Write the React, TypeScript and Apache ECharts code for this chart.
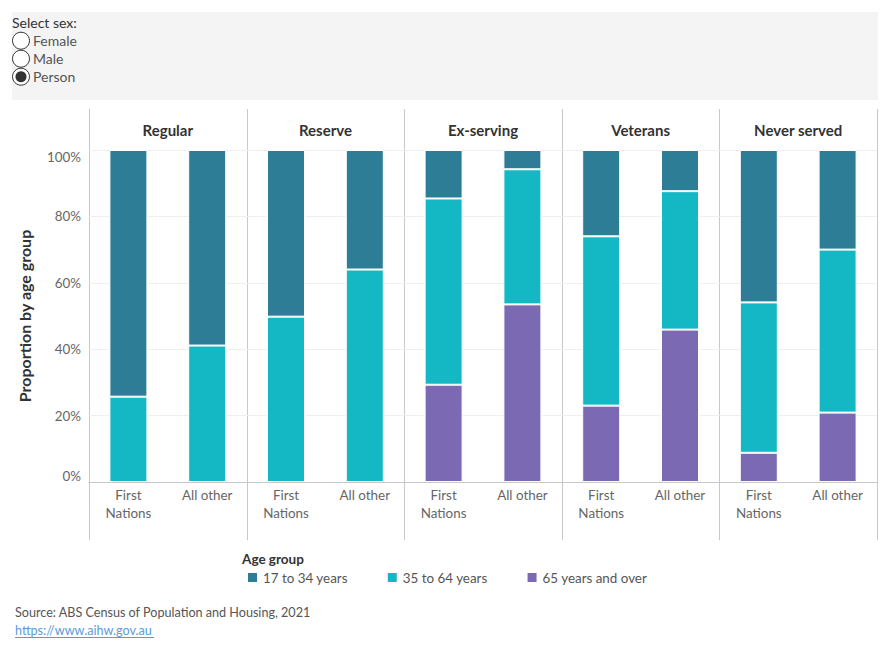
import React, { useEffect, useRef } from "react";
import * as echarts from "echarts";

const panels = ["Regular", "Reserve", "Ex-serving", "Veterans", "Never served"];
const groups = ["First Nations", "All other"];
const seriesNames = ["17 to 34 years", "35 to 64 years", "65 years and over"];
// values per panel, pairs: [First Nations, All other]
const age17to34 = [74.3, 58.9, 50.2, 36.0, 14.6, 5.8, 26.0, 12.4, 45.9, 30.0];
const age35to64 = [25.7, 41.1, 49.8, 64.0, 56.1, 40.7, 51.0, 41.7, 45.3, 49.1];
const age65plus = [0, 0, 0, 0, 29.3, 53.5, 23.0, 45.9, 8.8, 20.9];
const yTicks = [0, 20, 40, 60, 80, 100];
const sexOptions = ["Female", "Male", "Person"];
const selectedSex = "Person";

const COLORS: Record<string, string> = {
  "17 to 34 years": "#2d7d97",
  "35 to 64 years": "#13b8c4",
  "65 years and over": "#7b69b3",
};

const FONT = "Lato";
const LEFT = 89;
const PANEL_W = 157.6;
const TOP = 150;
const PLOT_H = 332;

export default function App() {
  const ref = useRef<HTMLDivElement>(null);
  useEffect(() => {
    if (!ref.current) return;
    const chart = echarts.init(ref.current, undefined, { renderer: "svg" });
    const valuesBySeries: Record<string, number[]> = {
      "17 to 34 years": age17to34,
      "35 to 64 years": age35to64,
      "65 years and over": age65plus,
    };
    const stackOrder = ["65 years and over", "35 to 64 years", "17 to 34 years"];

    const grids = panels.map((_, i) => ({
      left: LEFT + i * PANEL_W,
      top: TOP,
      width: PANEL_W,
      height: PLOT_H,
    }));
    const xAxes = panels.map((_, i) => ({
      type: "category",
      gridIndex: i,
      data: groups,
      axisTick: { show: false },
      axisLine: { lineStyle: { color: "#c8c8c8", width: 1 } },
      axisLabel: {
        interval: 0,
        color: "#666",
        fontSize: 13.4,
        fontFamily: FONT,
        lineHeight: 18,
        margin: 4,
        formatter: (v: string) => v.replace(" Nations", "\nNations"),
      },
    }));
    const yAxes = panels.map((_, i) => ({
      type: "value",
      gridIndex: i,
      min: yTicks[0],
      max: yTicks[yTicks.length - 1],
      interval: yTicks[1] - yTicks[0],
      axisLine: { show: false },
      axisTick: { show: false },
      splitLine: { lineStyle: { color: "#efefef", width: 1 } },
      axisLabel: {
        show: i === 0,
        formatter: "{value}%",
        color: "#666",
        fontSize: 13.4,
        fontFamily: FONT,
        margin: 8,
        verticalAlignMaxLabel: "top",
        verticalAlignMinLabel: "bottom",
      },
      name: i === 0 ? "Proportion by age group" : "",
      nameLocation: "middle",
      nameRotate: 90,
      nameGap: 57,
      nameTextStyle: { fontSize: 16, fontWeight: "bold", color: "#333", fontFamily: FONT },
    }));
    const series: any[] = [];
    panels.forEach((_, i) => {
      stackOrder.forEach((name) => {
        const vals = valuesBySeries[name].slice(i * 2, i * 2 + 2);
        series.push({
          type: "bar",
          name,
          xAxisIndex: i,
          yAxisIndex: i,
          stack: "p" + i,
          barWidth: 38,
          data: vals.map((v) => (v === 0 ? null : v)),
          itemStyle: { color: COLORS[name], borderColor: "#fff", borderWidth: 1 },
        });
      });
    });

    const graphics: any[] = [];
    // filter panel
    graphics.push({
      type: "rect",
      shape: { x: 12, y: 12, width: 866, height: 88 },
      style: { fill: "#f4f4f4" },
      silent: true,
    });
    graphics.push({
      type: "text",
      x: 12,
      y: 22.5,
      style: { text: "Select sex:", fill: "#333", font: `14px ${FONT}`, textVerticalAlign: "middle" },
    });
    sexOptions.forEach((opt, k) => {
      const cy = 40.7 + k * 18;
      graphics.push({
        type: "circle",
        shape: { cx: 21, cy, r: 8.5 },
        style: { fill: "#fff", stroke: "#333", lineWidth: 1 },
      });
      if (opt === selectedSex) {
        graphics.push({
          type: "circle",
          shape: { cx: 21, cy, r: 5.5 },
          style: { fill: "#333" },
        });
      }
      graphics.push({
        type: "text",
        x: 33,
        y: cy,
        style: { text: opt, fill: "#555", font: `14px ${FONT}`, textVerticalAlign: "middle" },
      });
    });
    // panel dividers and headers
    for (let i = 0; i <= panels.length; i++) {
      const x = Math.round(LEFT + i * PANEL_W) + 0.5;
      graphics.push({
        type: "line",
        shape: { x1: x, y1: 109, x2: x, y2: 540 },
        style: { stroke: "#c8c8c8", lineWidth: 1 },
        silent: true,
      });
    }
    panels.forEach((p, i) => {
      graphics.push({
        type: "text",
        x: LEFT + i * PANEL_W + PANEL_W / 2,
        y: 130,
        style: {
          text: p,
          fill: "#333",
          font: `bold 15px ${FONT}`,
          textAlign: "center",
          textVerticalAlign: "middle",
        },
      });
    });
    // legend title
    graphics.push({
      type: "text",
      x: 242,
      y: 559,
      style: { text: "Age group", fill: "#333", font: `bold 13.5px ${FONT}`, textVerticalAlign: "middle" },
    });
    // source
    graphics.push({
      type: "text",
      x: 15,
      y: 612,
      style: {
        text: "Source: ABS Census of Population and Housing, 2021",
        fill: "#555",
        font: `12.6px ${FONT}`,
        textVerticalAlign: "middle",
      },
    });
    graphics.push({
      type: "text",
      x: 15,
      y: 630,
      style: { text: "https://www.aihw.gov.au", fill: "#5b9bd5", font: `12.6px ${FONT}`, textVerticalAlign: "middle" },
    });
    graphics.push({
      type: "line",
      shape: { x1: 15, y1: 637.5, x2: 154, y2: 637.5 },
      style: { stroke: "#5b9bd5", lineWidth: 1 },
    });

    chart.setOption({
      animation: false,
      textStyle: { fontFamily: FONT },
      grid: grids,
      xAxis: xAxes,
      yAxis: yAxes,
      series,
      legend: {
        data: seriesNames,
        left: 241,
        top: 566,
        icon: "rect",
        itemWidth: 11,
        itemHeight: 11,
        itemGap: 38,
        selectedMode: false,
        textStyle: { fontSize: 13.4, color: "#555", fontFamily: FONT },
      },
      graphic: graphics,
    });
    return () => chart.dispose();
  }, []);
  return (
    <div
      ref={ref}
      style={{ position: "absolute", left: 0, top: 0, width: 890, height: 650, background: "#fff" }}
    />
  );
}
